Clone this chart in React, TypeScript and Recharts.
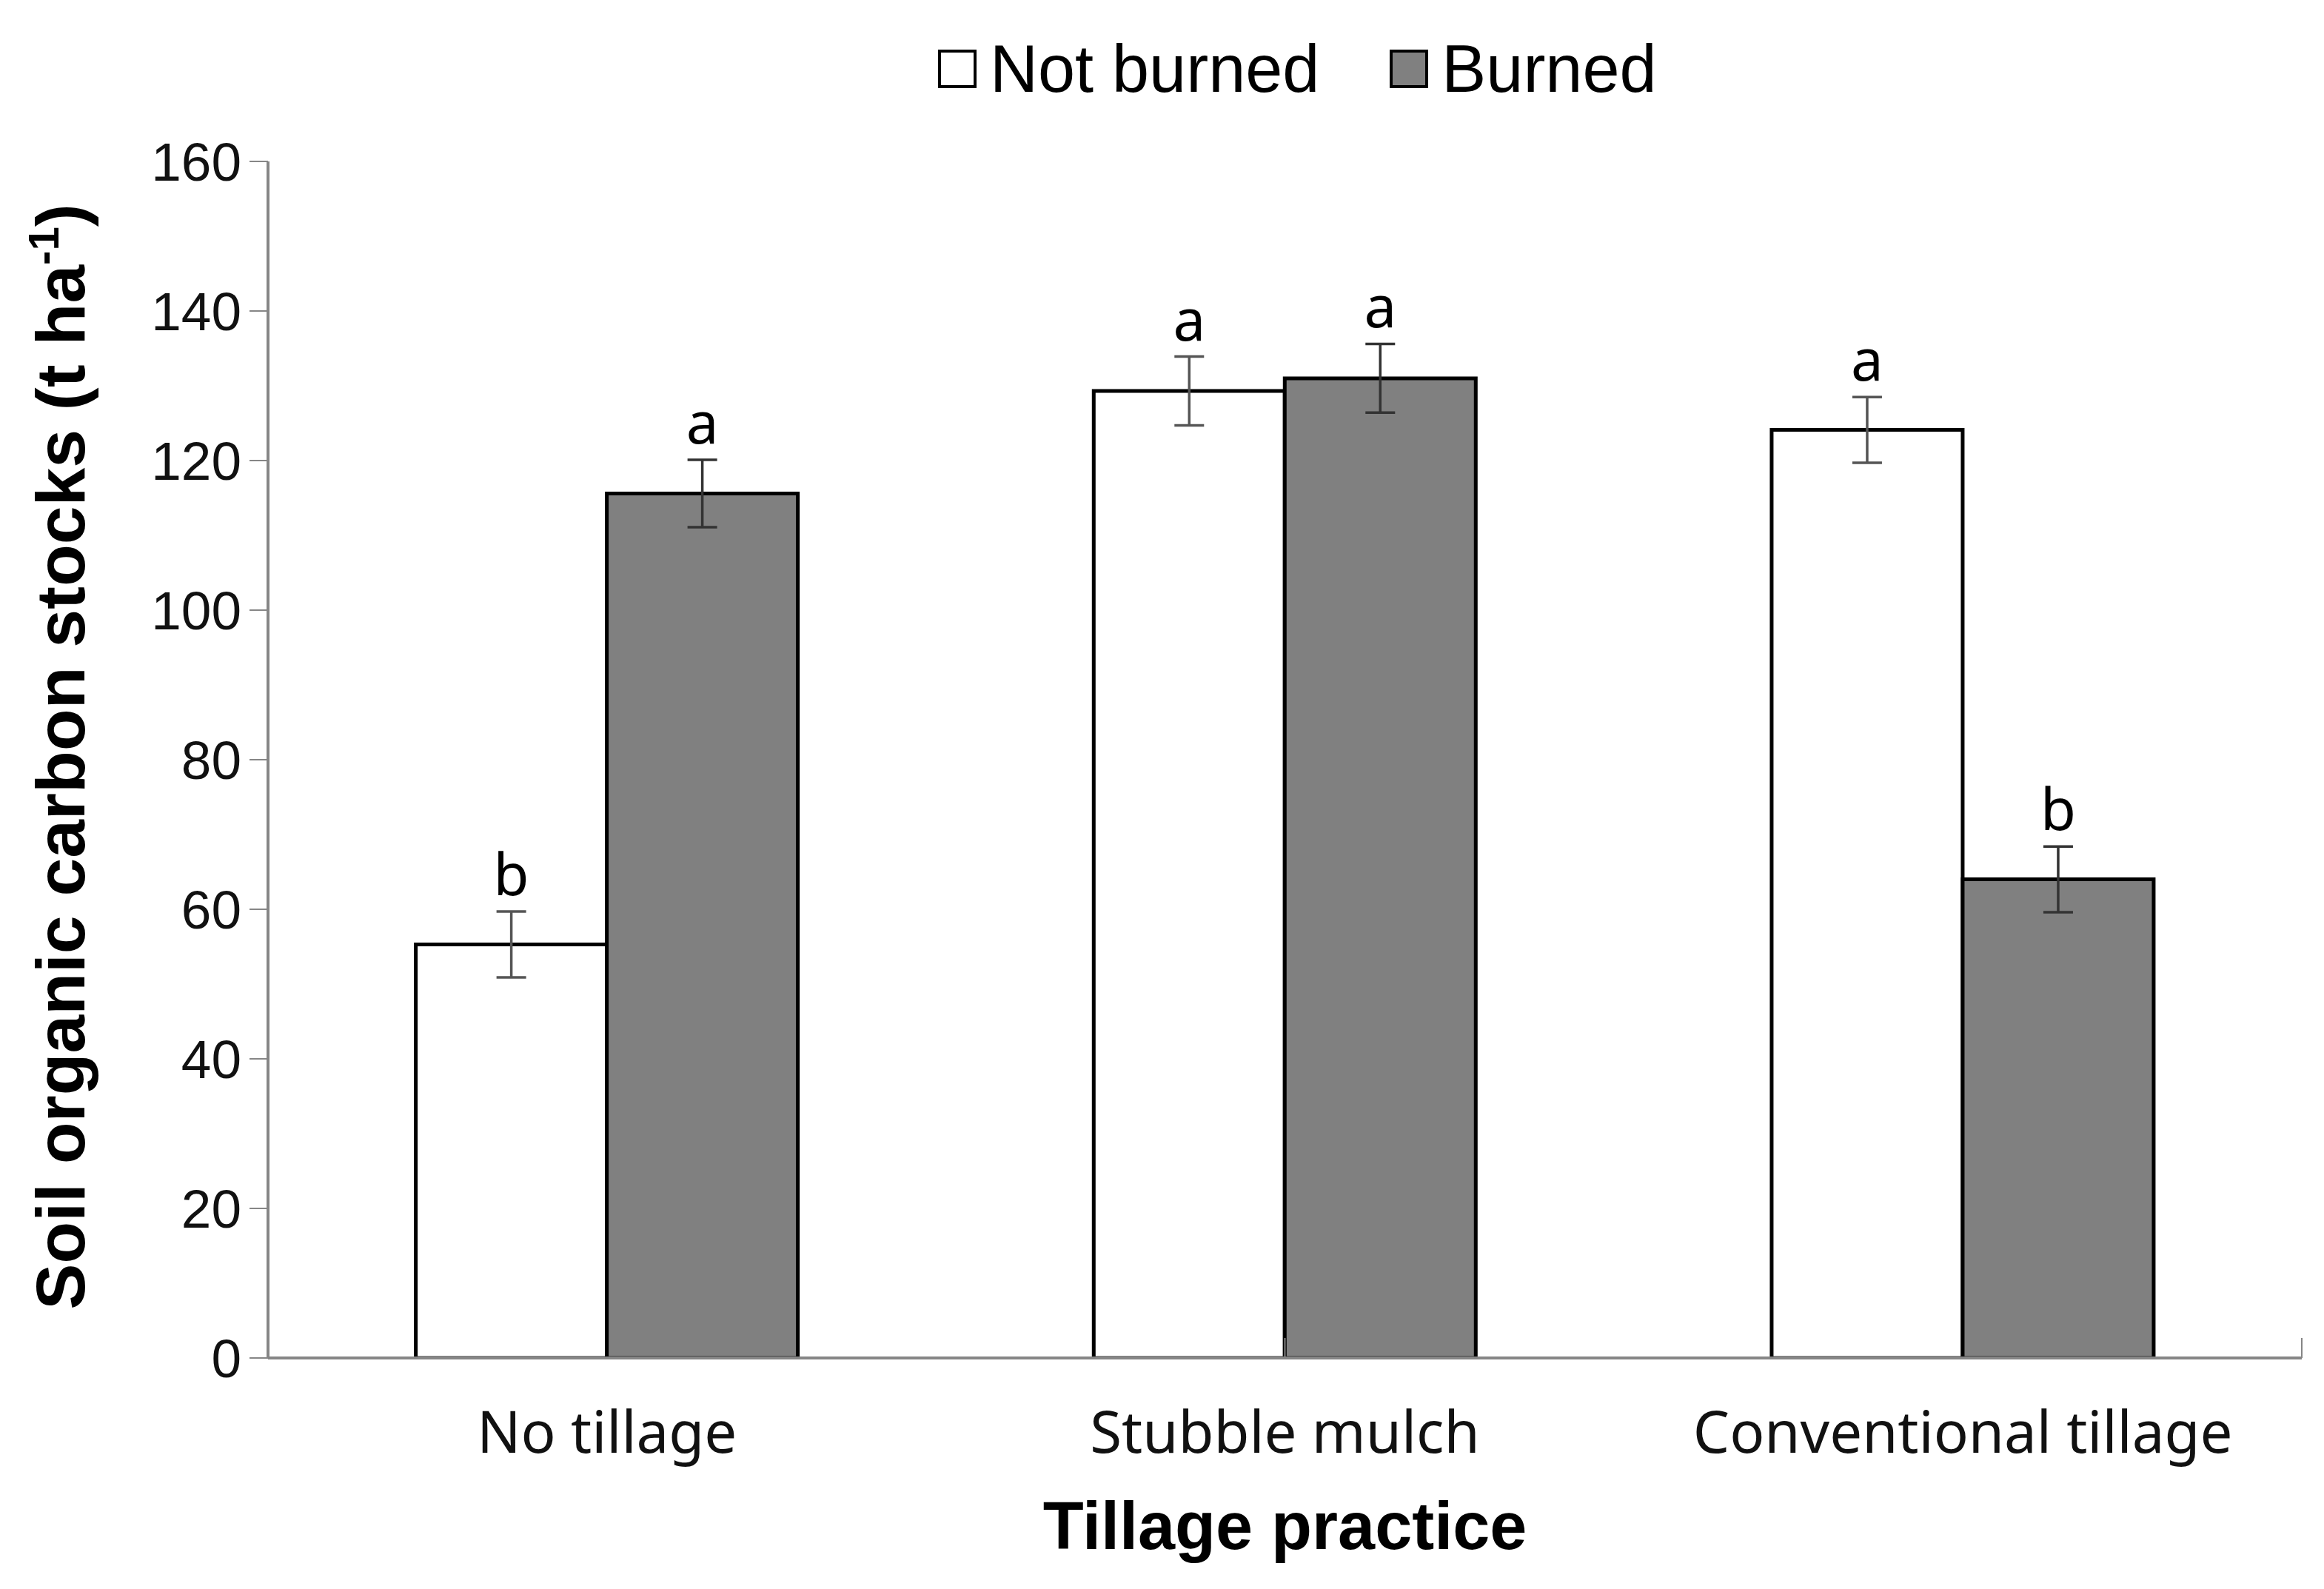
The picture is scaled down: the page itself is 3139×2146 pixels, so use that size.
import { BarChart, Bar, XAxis, YAxis, ErrorBar, LabelList, Legend } from 'recharts';

const practices = ['No tillage', 'Stubble mulch', 'Conventional tillage'];
const notBurned = [55.3, 129.3, 124.1];
const notBurnedErr = [4.4, 4.6, 4.4];
const notBurnedLetters = ['b', 'a', 'a'];
const burned = [115.6, 131.0, 64.0];
const burnedErr = [4.5, 4.6, 4.4];
const burnedLetters = ['a', 'a', 'b'];
const yTicks = [0, 20, 40, 60, 80, 100, 120, 140, 160];
const edgeTicks = [0, 1, 2, 3];

const legendItems = [
  { name: 'Not burned', fill: '#ffffff' },
  { name: 'Burned', fill: '#808080' },
];

const data = practices.map((practice, i) => ({
  practice,
  notBurned: notBurned[i],
  notBurnedErr: notBurnedErr[i],
  burned: burned[i],
  burnedErr: burnedErr[i],
}));

const AXIS_GREY = '#868686';
const SANS = '"Liberation Sans", Arial, sans-serif';
const LABEL_FONT = '"Noto Sans", "Open Sans", sans-serif';

// letter above each error bar: offset taken from bar height / value (the y scale)
const letterContent = (letters: string[], errs: number[]) => (props: any) => {
  const { x, y, width, height, index, value } = props;
  const pxPerUnit = Number(height) / Number(value);
  const top = Number(y) - errs[index] * pxPerUnit;
  return (
    <text
      x={Number(x) + Number(width) / 2}
      y={top - 22}
      textAnchor="middle"
      fontSize={78}
      fontFamily={LABEL_FONT}
      fill="#000"
    >
      {letters[index]}
    </text>
  );
};

function LegendBox() {
  return (
    <div style={{ display: 'flex', alignItems: 'center', fontFamily: SANS, fontSize: 90, color: '#000', lineHeight: 1 }}>
      {legendItems.map((item, i) => (
        <div key={item.name} style={{ display: 'flex', alignItems: 'center', marginLeft: i === 0 ? 0 : 95 }}>
          <span
            style={{
              display: 'inline-block',
              width: 44,
              height: 44,
              border: '4px solid #000',
              background: item.fill,
              marginRight: 18,
            }}
          />
          <span>{item.name}</span>
        </div>
      ))}
    </div>
  );
}

function YTitle(props: any) {
  const { viewBox } = props;
  const cy = viewBox.y + viewBox.height / 2 - 4;
  const x = 114;
  return (
    <text
      x={x}
      y={cy}
      transform={`rotate(-90, ${x}, ${cy})`}
      textAnchor="middle"
      fontFamily={SANS}
      fontWeight="bold"
      fontSize={93}
      fill="#000"
    >
      Soil organic carbon stocks (t ha
      <tspan fontSize={58} dy={-35}>-1</tspan>
      <tspan dy={35}>)</tspan>
    </text>
  );
}

export default function App() {
  return (
    <div style={{ position: 'absolute', left: 0, top: 0, width: 3139, height: 2146, background: '#fff' }}>
      <BarChart
        width={3139}
        height={2146}
        data={data}
        margin={{ top: 218, right: 30, left: 0, bottom: 0 }}
        barCategoryGap="21.8%"
        barGap={0}
      >
        <XAxis
          xAxisId="edge"
          type="number"
          domain={[0, 3]}
          ticks={edgeTicks}
          allowDataOverflow
          mirror
          height={1}
          tickSize={27}
          tickFormatter={() => ''}
          stroke={AXIS_GREY}
          axisLine={{ stroke: AXIS_GREY, strokeWidth: 4 }}
          tickLine={{ stroke: AXIS_GREY, strokeWidth: 2 }}
        />
        <XAxis
          xAxisId="cat"
          dataKey="practice"
          height={312}
          axisLine={false}
          tickLine={false}
          tickSize={0}
          tickMargin={73}
          interval={0}
          tick={{ fill: '#111', fontSize: 78, fontFamily: LABEL_FONT }}
          label={{
            value: 'Tillage practice',
            position: 'insideBottom',
            offset: 54,
            fill: '#000',
            fontSize: 90,
            fontWeight: 'bold',
            fontFamily: SANS,
          }}
        />
        <YAxis
          width={362}
          domain={[0, 160]}
          ticks={yTicks}
          allowDataOverflow
          tickSize={25}
          tickMargin={11}
          axisLine={{ stroke: AXIS_GREY, strokeWidth: 4 }}
          tickLine={{ stroke: AXIS_GREY, strokeWidth: 2 }}
          tick={{ fill: '#111', fontSize: 73, fontFamily: SANS }}
          label={<YTitle />}
        />
        <Legend
          verticalAlign="middle"
          align="center"
          layout="horizontal"
          wrapperStyle={{ top: 48, left: 1267, width: 'auto', height: 'auto' }}
          content={() => <LegendBox />}
        />
        <Bar
          xAxisId="cat"
          dataKey="notBurned"
          name="Not burned"
          fill="#ffffff"
          stroke="#000"
          strokeWidth={5}
          isAnimationActive={false}
        >
          <ErrorBar dataKey="notBurnedErr" width={20} stroke="#555" strokeWidth={3.5} direction="y" isAnimationActive={false} />
          <LabelList dataKey="notBurned" content={letterContent(notBurnedLetters, notBurnedErr)} />
        </Bar>
        <Bar
          xAxisId="cat"
          dataKey="burned"
          name="Burned"
          fill="#808080"
          stroke="#000"
          strokeWidth={5}
          isAnimationActive={false}
        >
          <ErrorBar dataKey="burnedErr" width={20} stroke="#333" strokeWidth={3.5} direction="y" isAnimationActive={false} />
          <LabelList dataKey="burned" content={letterContent(burnedLetters, burnedErr)} />
        </Bar>
      </BarChart>
    </div>
  );
}
